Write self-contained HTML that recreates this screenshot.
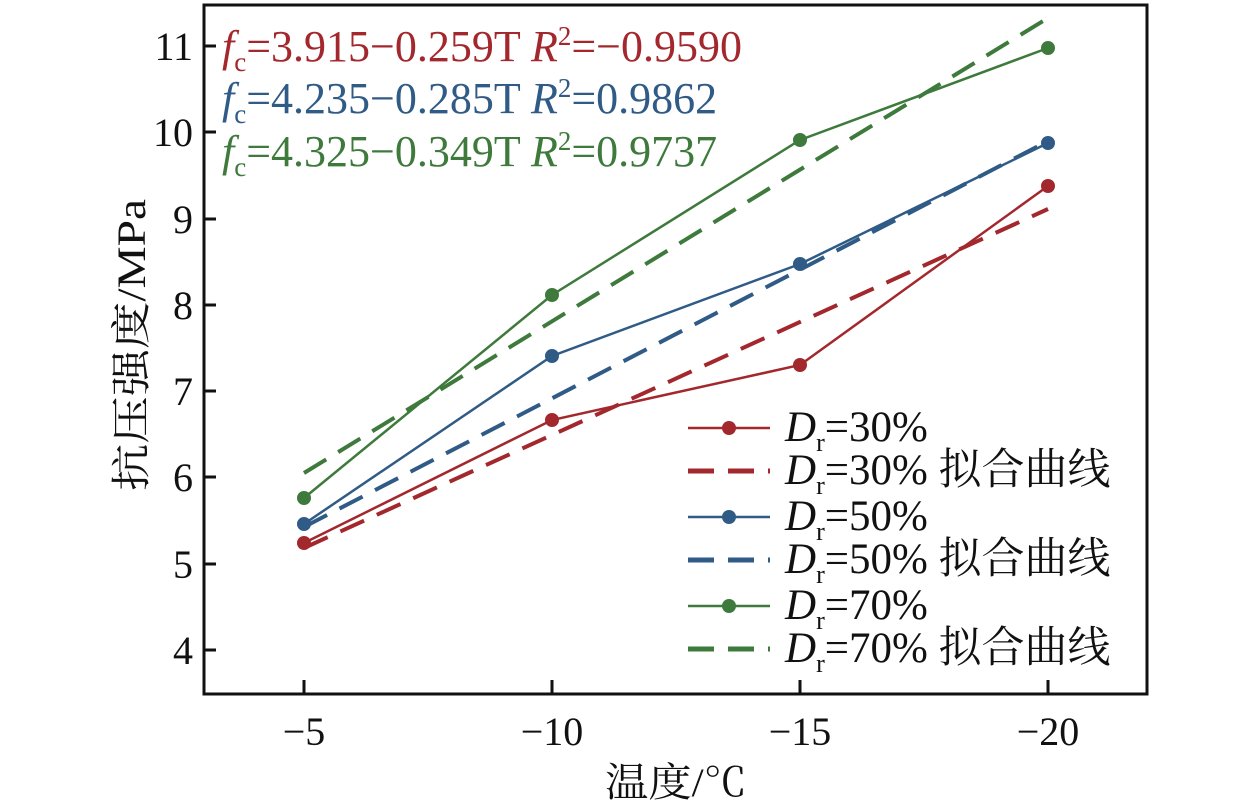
<!DOCTYPE html>
<html><head><meta charset="utf-8"><style>
html,body{margin:0;padding:0;background:#fff;}
svg{display:block;font-family:"Liberation Serif","Noto Serif CJK SC",serif;}
</style></head><body>
<svg width="1259" height="811" viewBox="0 0 1259 811" xmlns="http://www.w3.org/2000/svg">
<rect x="204" y="5" width="943" height="689" fill="none" stroke="#111" stroke-width="3"/>
<g stroke="#111" stroke-width="3">
<line x1="304" y1="694" x2="304" y2="680"/><line x1="552" y1="694" x2="552" y2="680"/>
<line x1="800" y1="694" x2="800" y2="680"/><line x1="1048" y1="694" x2="1048" y2="680"/>
<line x1="204" y1="46" x2="216" y2="46"/><line x1="204" y1="132" x2="216" y2="132"/>
<line x1="204" y1="219" x2="216" y2="219"/><line x1="204" y1="305" x2="216" y2="305"/>
<line x1="204" y1="391" x2="216" y2="391"/><line x1="204" y1="477" x2="216" y2="477"/>
<line x1="204" y1="564" x2="216" y2="564"/><line x1="204" y1="650" x2="216" y2="650"/>
</g>
<g font-size="40" fill="#111" text-anchor="end">
<text x="193" y="60">11</text><text x="193" y="146">10</text><text x="193" y="233">9</text>
<text x="193" y="319">8</text><text x="193" y="405">7</text><text x="193" y="491">6</text>
<text x="193" y="578">5</text><text x="193" y="664">4</text>
</g>
<g font-size="40" fill="#111" text-anchor="middle">
<text x="304" y="745">−5</text><text x="552" y="745">−10</text>
<text x="800" y="745">−15</text><text x="1048" y="745">−20</text>
<text x="676" y="796" textLength="142" lengthAdjust="spacingAndGlyphs">温度/℃</text>
</g>
<text transform="translate(145,345) rotate(-90)" font-size="40" fill="#111" text-anchor="middle" textLength="292" lengthAdjust="spacingAndGlyphs">抗压强度/MPa</text>
<g stroke-width="4" stroke-dasharray="26,14" fill="none">
<line x1="304" y1="548" x2="1048" y2="209" stroke="#a3282d"/>
<line x1="304" y1="527" x2="1048" y2="141" stroke="#2f5b86"/>
<line x1="304" y1="473" x2="1048" y2="18" stroke="#3e7a3c"/>
</g>
<g fill="none" stroke-width="2.5">
<polyline points="304,543 552,420 800,365 1048,186" stroke="#a3282d"/>
<polyline points="304,524 552,356 800,264 1048,143" stroke="#2f5b86"/>
<polyline points="304,498 552,295 800,140 1048,48" stroke="#3e7a3c"/>
</g>
<g fill="#a3282d"><circle cx="304" cy="543" r="7"/><circle cx="552" cy="420" r="7"/><circle cx="800" cy="365" r="7"/><circle cx="1048" cy="186" r="7"/></g>
<g fill="#2f5b86"><circle cx="304" cy="524" r="7"/><circle cx="552" cy="356" r="7"/><circle cx="800" cy="264" r="7"/><circle cx="1048" cy="143" r="7"/></g>
<g fill="#3e7a3c"><circle cx="304" cy="498" r="7"/><circle cx="552" cy="295" r="7"/><circle cx="800" cy="140" r="7"/><circle cx="1048" cy="48" r="7"/></g>
<g font-size="44">
<text x="222" y="61" fill="#a3282d"><tspan font-style="italic">f</tspan><tspan font-size="27" dy="10">c</tspan><tspan dy="-10">=3.915−0.259T </tspan><tspan font-style="italic">R</tspan><tspan font-size="27" dy="-16">2</tspan><tspan dy="16">=−0.9590</tspan></text>
<text x="222" y="113" fill="#2f5b86"><tspan font-style="italic">f</tspan><tspan font-size="27" dy="10">c</tspan><tspan dy="-10">=4.235−0.285T </tspan><tspan font-style="italic">R</tspan><tspan font-size="27" dy="-16">2</tspan><tspan dy="16">=0.9862</tspan></text>
<text x="222" y="166" fill="#3e7a3c"><tspan font-style="italic">f</tspan><tspan font-size="27" dy="10">c</tspan><tspan dy="-10">=4.325−0.349T </tspan><tspan font-style="italic">R</tspan><tspan font-size="27" dy="-16">2</tspan><tspan dy="16">=0.9737</tspan></text>
</g>
<g stroke-width="2.5"><line x1="688" y1="428" x2="770" y2="428" stroke="#a3282d"/><line x1="688" y1="517" x2="770" y2="517" stroke="#2f5b86"/><line x1="688" y1="606" x2="770" y2="606" stroke="#3e7a3c"/></g>
<circle cx="729" cy="428" r="7" fill="#a3282d"/><circle cx="729" cy="517" r="7" fill="#2f5b86"/><circle cx="729" cy="606" r="7" fill="#3e7a3c"/>
<g stroke-width="5" stroke-dasharray="26,14"><line x1="688" y1="471" x2="770" y2="471" stroke="#a3282d"/><line x1="688" y1="560" x2="770" y2="560" stroke="#2f5b86"/><line x1="688" y1="649" x2="770" y2="649" stroke="#3e7a3c"/></g>
<g font-size="43" fill="#111">
<text x="785" y="441"><tspan font-style="italic">D</tspan><tspan font-size="26" dy="10">r</tspan><tspan dy="-10">=30%</tspan></text>
<text x="785" y="484"><tspan font-style="italic">D</tspan><tspan font-size="26" dy="10">r</tspan><tspan dy="-10">=30% 拟合曲线</tspan></text>
<text x="785" y="530"><tspan font-style="italic">D</tspan><tspan font-size="26" dy="10">r</tspan><tspan dy="-10">=50%</tspan></text>
<text x="785" y="573"><tspan font-style="italic">D</tspan><tspan font-size="26" dy="10">r</tspan><tspan dy="-10">=50% 拟合曲线</tspan></text>
<text x="785" y="619"><tspan font-style="italic">D</tspan><tspan font-size="26" dy="10">r</tspan><tspan dy="-10">=70%</tspan></text>
<text x="785" y="662"><tspan font-style="italic">D</tspan><tspan font-size="26" dy="10">r</tspan><tspan dy="-10">=70% 拟合曲线</tspan></text>
</g>
</svg>
</body></html>
